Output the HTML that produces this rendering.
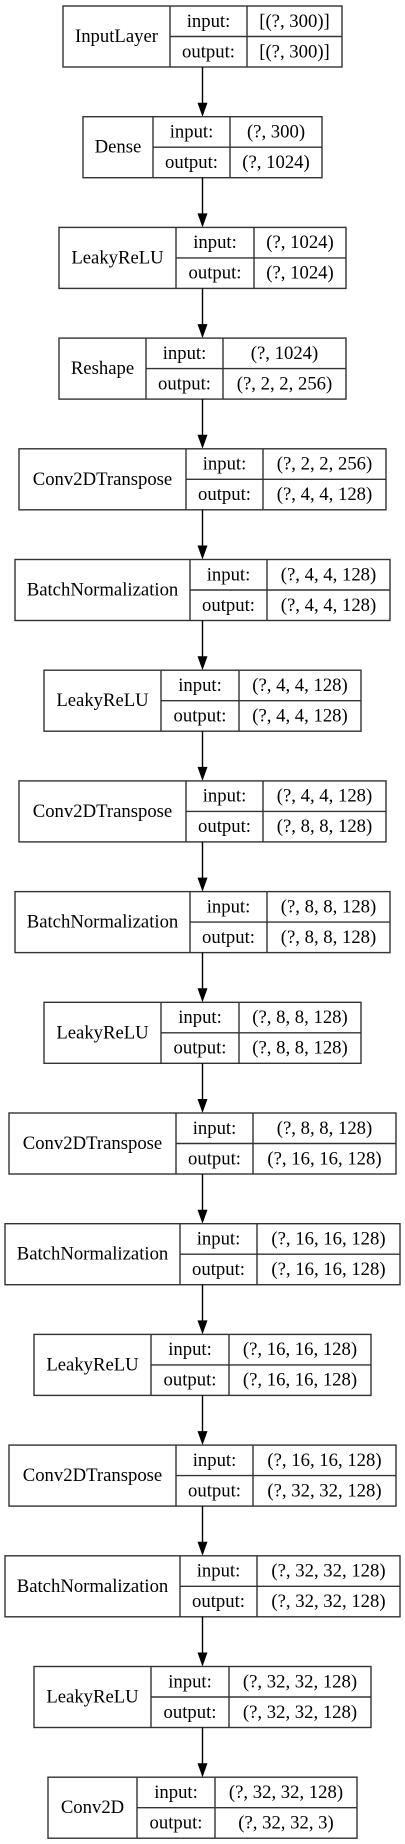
<!DOCTYPE html>
<html><head><meta charset="utf-8"><style>
html,body{margin:0;padding:0;background:#fff;width:405px;height:1844px;overflow:hidden}
svg{display:block}
text{font-family:"Liberation Serif",serif;font-size:18.7px;fill:#000}
</style></head><body>
<svg id="g" width="405" height="1844" viewBox="0 0 405 1844"></svg>
<script>
const layerNames=["InputLayer","Dense","LeakyReLU","Reshape","Conv2DTranspose","BatchNormalization","LeakyReLU","Conv2DTranspose","BatchNormalization","LeakyReLU","Conv2DTranspose","BatchNormalization","LeakyReLU","Conv2DTranspose","BatchNormalization","LeakyReLU","Conv2D"];
const inputShapes=["[(?, 300)]","(?, 300)","(?, 1024)","(?, 1024)","(?, 2, 2, 256)","(?, 4, 4, 128)","(?, 4, 4, 128)","(?, 4, 4, 128)","(?, 8, 8, 128)","(?, 8, 8, 128)","(?, 8, 8, 128)","(?, 16, 16, 128)","(?, 16, 16, 128)","(?, 16, 16, 128)","(?, 32, 32, 128)","(?, 32, 32, 128)","(?, 32, 32, 128)"];
const outputShapes=["[(?, 300)]","(?, 1024)","(?, 1024)","(?, 2, 2, 256)","(?, 4, 4, 128)","(?, 4, 4, 128)","(?, 4, 4, 128)","(?, 8, 8, 128)","(?, 8, 8, 128)","(?, 8, 8, 128)","(?, 16, 16, 128)","(?, 16, 16, 128)","(?, 16, 16, 128)","(?, 32, 32, 128)","(?, 32, 32, 128)","(?, 32, 32, 128)","(?, 32, 32, 3)"];
// layout columns [left, nameDivider, valueDivider, right]
const cols=[[63,170,247,342],[83,153,230,322],[59,176,254,346],[59,146,223,346],[19,186,263,386],[15,190,267,390],[44,161,239,361],[19,186,263,386],[15,190,267,390],[44,161,239,361],[9,176,253,396],[5,180,257,400],[34,151,229,371],[9,176,253,396],[5,180,257,400],[34,151,229,371],[48,137,215,357]];
const NS="http://www.w3.org/2000/svg";
const svg=document.getElementById('g');
const H=61, STEP=110.7, TOP=6, AX=202.5;
function mk(tag,attrs,parent){const e=document.createElementNS(NS,tag);for(const k in attrs)e.setAttribute(k,attrs[k]);(parent||svg).appendChild(e);return e;}
function txt(x,y,s,parent){const t=mk('text',{x:x,y:y,'text-anchor':'middle','dominant-baseline':'central'},parent);t.textContent=s;return t;}
layerNames.forEach((n,i)=>{
  const [a,b,c,d]=cols[i];const y=TOP+i*STEP;
  const g=mk('g',{});
  
  
  mk('rect',{x:a,y:y,width:d-a,height:H,fill:'#fff',stroke:'#333','stroke-width':1.4},g);
  mk('line',{x1:b,y1:y,x2:b,y2:y+H,stroke:'#333','stroke-width':1.4},g);
  mk('line',{x1:c,y1:y,x2:c,y2:y+H,stroke:'#333','stroke-width':1.4},g);
  mk('line',{x1:b,y1:y+H/2,x2:d,y2:y+H/2,stroke:'#333','stroke-width':1.4},g);
  const t1=txt((a+b)/2,y+H/2,n,g);
  
  
  txt((b+c)/2,y+H/4,'input:',g);
  txt((b+c)/2,y+3*H/4,'output:',g);
  const t2=txt((c+d)/2,y+H/4,inputShapes[i],g);
  
  
  const t3=txt((c+d)/2,y+3*H/4,outputShapes[i],g);
  
  
  if(i<layerNames.length-1){
    const y0=y+H, y1=TOP+(i+1)*STEP;
    const ag=mk('g',{});
    
    
    mk('line',{x1:AX,y1:y0,x2:AX,y2:y1-13,stroke:'#000','stroke-width':1.4},ag);
    mk('polygon',{points:`${AX-5},${y1-14} ${AX+5},${y1-14} ${AX},${y1}`,fill:'#000'},ag);
  }
});
</script>
</body></html>
